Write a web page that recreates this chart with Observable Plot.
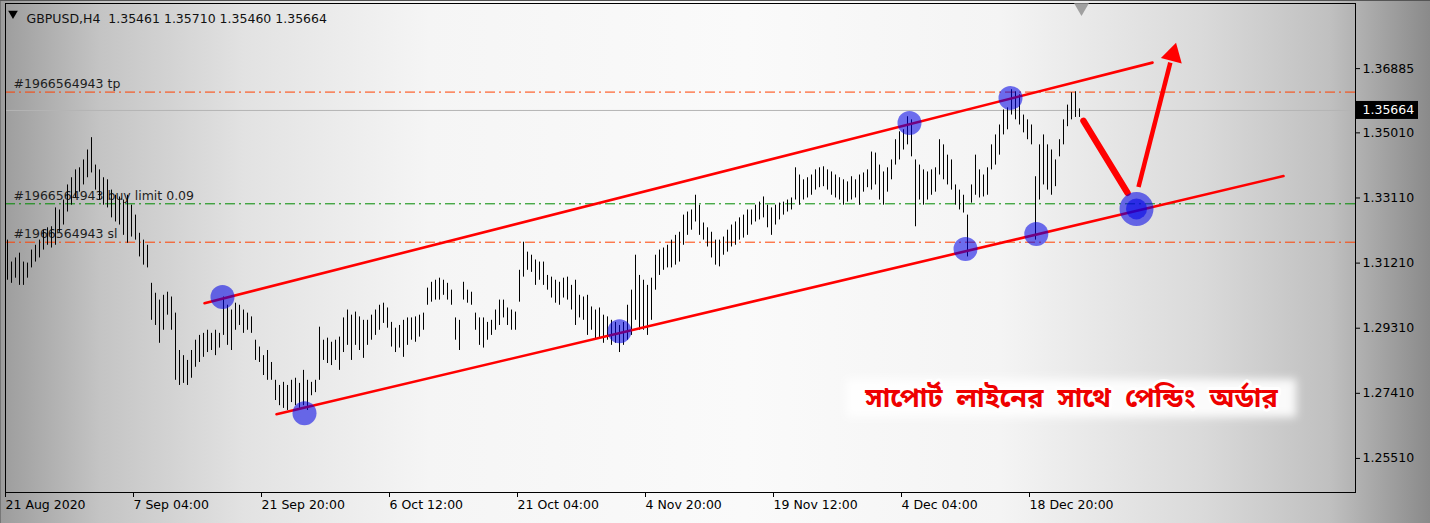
<!DOCTYPE html>
<html><head><meta charset="utf-8">
<script src="https://cdn.jsdelivr.net/npm/d3@7"></script>
<script src="https://cdn.jsdelivr.net/npm/@observablehq/plot@0.6"></script>
<style>
html,body{margin:0;padding:0;}
body{width:1430px;height:523px;overflow:hidden;}
#chart{position:relative;width:1430px;height:523px;
background:linear-gradient(to right,#9c9c9c 0%,#c4c4c4 7%,#e2e2e2 17%,#f5f5f5 30%,#fafafa 52%,#f4f4f4 70%,#dadada 84%,#c0c0c0 93%,#8a8a8a 100%);
box-shadow:inset 0 1px 0 #555, inset 1px 0 0 #777;}
#chart svg{position:absolute;left:0;top:0;}
</style></head><body><div id="chart"></div>
<script>
// ---- data ----
const symbolTitle = "GBPUSD,H4";
const headerOHLC = [1.35461, 1.35710, 1.35460, 1.35664];
const lastPrice = 1.35664;

const highs = [
1.3188,1.3124,1.3136,1.3150,1.3124,1.3121,1.3159,1.3173,1.3188,1.3217,
1.3224,1.3227,1.3282,1.3276,1.3305,1.3349,1.3370,1.3393,1.3399,1.3422,
1.3451,1.3487,1.3407,1.3393,1.3370,1.3364,1.3334,1.3319,1.3314,1.3305,
1.3319,1.3290,1.3261,1.3208,1.3188,1.3173,1.3062,1.3033,1.3013,1.3027,
1.3036,1.3022,1.2975,1.2866,
1.2851,1.2837,1.2866,1.2896,1.2910,1.2916,1.2925,1.2916,1.2925,1.2916,
1.3022,1.2998,1.2984,1.3004,1.2998,1.2984,1.2975,1.2964,1.2896,1.2876,
1.2851,1.2866,1.2831,1.2779,1.2764,1.2773,1.2764,1.2779,1.2785,1.2770,
1.2808,1.2779,1.2773,1.2779,1.2934,1.2896,1.2902,1.2890,1.2896,1.2905,
1.2961,1.2984,1.2969,1.2978,
1.2964,1.2954,1.2954,1.2969,1.2984,1.2998,1.3004,1.2990,1.2948,1.2931,
1.2939,1.2954,1.2961,1.2961,1.2964,1.2969,1.2975,1.3048,1.3065,1.3071,
1.3077,1.3071,1.3062,1.3042,1.2961,1.2954,1.3065,1.3042,1.3036,1.2975,
1.2961,1.2961,1.2948,1.2954,1.2984,1.3013,1.3013,1.2990,1.2984,1.2978,
1.3100,1.3182,1.3153,1.3144,1.3130,
1.3124,1.3124,1.3085,1.3080,1.3071,1.3065,1.3077,1.3080,1.3056,1.3071,
1.3027,1.3022,1.3027,1.2993,1.2984,1.2990,1.2969,1.2964,1.2954,1.2948,
1.2939,1.2948,1.2998,1.3042,1.3144,1.3085,1.3071,1.3056,1.3077,1.3144,
1.3159,1.3165,1.3173,1.3188,1.3202,1.3211,1.3261,1.3270,1.3276,1.3319,
1.3290,1.3238,1.3224,1.3211,1.3188,1.3188,1.3197,
1.3217,1.3232,1.3241,1.3253,1.3261,1.3276,1.3276,1.3290,1.3299,1.3314,
1.3290,1.3282,1.3290,1.3296,1.3299,1.3305,1.3311,1.3399,1.3378,1.3364,
1.3370,1.3378,1.3393,1.3399,1.3402,1.3393,1.3387,1.3378,1.3370,1.3364,
1.3358,1.3373,1.3364,1.3378,1.3384,1.3393,1.3445,1.3442,1.3407,1.3387,
1.3399,1.3422,1.3481,1.3504,1.3510,
1.3548,1.3539,1.3422,1.3407,1.3393,1.3387,1.3393,1.3399,1.3481,1.3466,
1.3436,1.3422,1.3349,1.3334,1.3319,1.3261,1.3349,1.3436,1.3393,1.3378,
1.3399,1.3466,1.3495,1.3524,1.3568,1.3574,1.3627,1.3621,1.3612,1.3553,
1.3539,1.3524,1.3373,1.3466,1.3495,1.3466,1.3451,1.3422,1.3481,1.3539,
1.3582,1.3618,1.3621,1.3571
];
const lows = [
1.3071,1.3062,1.3077,1.3056,1.3056,1.3077,1.3107,1.3124,1.3136,1.3159,
1.3173,1.3165,1.3173,1.3211,1.3232,1.3270,1.3290,1.3311,1.3328,1.3349,
1.3370,1.3384,1.3334,1.3305,1.3290,1.3282,1.3253,1.3241,1.3232,1.3202,
1.3179,1.3197,1.3188,1.3139,1.3115,1.3107,1.2954,1.2939,1.2887,1.2925,
1.2969,1.2925,1.2779,1.2764,
1.2770,1.2764,1.2785,1.2817,1.2831,1.2846,1.2860,1.2866,1.2851,1.2873,
1.2910,1.2881,1.2866,1.2925,1.2939,1.2916,1.2925,1.2916,1.2837,1.2831,
1.2793,1.2779,1.2779,1.2720,1.2705,1.2697,1.2691,1.2714,1.2705,1.2697,
1.2705,1.2691,1.2734,1.2743,1.2779,1.2837,1.2828,1.2822,1.2837,1.2808,
1.2860,1.2881,1.2837,1.2881,
1.2866,1.2843,1.2881,1.2896,1.2910,1.2925,1.2945,1.2931,1.2876,1.2860,
1.2873,1.2846,1.2881,1.2896,1.2890,1.2905,1.2925,1.2998,1.3007,1.3013,
1.3013,1.3027,1.3013,1.2998,1.2896,1.2866,1.3013,1.3004,1.2998,1.2925,
1.2881,1.2873,1.2896,1.2910,1.2925,1.2939,1.2961,1.2939,1.2925,1.2925,
1.3007,1.3080,1.3100,1.3094,1.3056,
1.3071,1.3056,1.3042,1.3019,1.3004,1.2998,1.3019,1.3013,1.2984,1.2939,
1.2961,1.2954,1.2910,1.2925,1.2896,1.2902,1.2887,1.2896,1.2881,1.2887,
1.2860,1.2881,1.2896,1.2910,1.2954,1.2925,1.2925,1.2910,1.2954,1.3042,
1.3085,1.3100,1.3107,1.3107,1.3115,1.3124,1.3173,1.3202,1.3217,1.3241,
1.3202,1.3188,1.3168,1.3136,1.3115,1.3110,1.3144,
1.3153,1.3168,1.3173,1.3188,1.3194,1.3202,1.3232,1.3241,1.3247,1.3253,
1.3224,1.3202,1.3232,1.3247,1.3261,1.3270,1.3276,1.3305,1.3290,1.3305,
1.3311,1.3319,1.3334,1.3341,1.3344,1.3334,1.3319,1.3311,1.3305,1.3290,
1.3299,1.3305,1.3311,1.3290,1.3328,1.3341,1.3334,1.3349,1.3305,1.3290,
1.3328,1.3364,1.3407,1.3422,1.3451,
1.3466,1.3431,1.3227,1.3305,1.3290,1.3305,1.3319,1.3328,1.3378,1.3364,
1.3349,1.3334,1.3290,1.3276,1.3267,1.3139,1.3296,1.3319,1.3311,1.3314,
1.3319,1.3393,1.3407,1.3436,1.3495,1.3510,1.3553,1.3539,1.3524,1.3501,
1.3481,1.3466,1.3188,1.3305,1.3349,1.3334,1.3319,1.3344,1.3431,1.3466,
1.3519,1.3539,1.3546,1.3546
];

const xTickIndex = [0, 32, 64, 96, 128, 160, 192, 224, 256];
const xTickLabels = ["21 Aug 2020","7 Sep 04:00","21 Sep 20:00","6 Oct 12:00","21 Oct 04:00","4 Nov 20:00","19 Nov 12:00","4 Dec 04:00","18 Dec 20:00"];
const yTicks = [1.36885, 1.35010, 1.33110, 1.31210, 1.29310, 1.27410, 1.25510];

const orderNames = ["#1966564943 tp", "#1966564943 buy limit 0.09", "#1966564943 sl"];
const orderPrices = [1.3620, 1.3294, 1.3182];
const orderColors = ["#ff4000", "#008a00", "#ff4000"];

const channelNames = ["upper", "upper", "lower", "lower"];
const channelIndex = [49.75, 286.75, 67.75, 319.5];
const channelPrice = [1.3004, 1.3706, 1.2680, 1.3375];

const touchIndex = [54.25, 74.75, 153.5, 226, 240, 251.25, 257.7];
const touchPrice = [1.3022, 1.2683, 1.2922, 1.3530, 1.3162, 1.3603, 1.3206];
const entryIndex = [282.75];
const entryPrice = [1.3279];

const moveDownIndex = [269.5, 280.5];
const moveDownPrice = [1.3536, 1.3326];
const moveUpIndex = [283.25, 291.2];
const moveUpPrice = [1.3343, 1.3706];
const arrowHeadIndex = [291.85];
const arrowHeadPrice = [1.3729];

const noteWords = ["সাপোর্ট", "লাইনের", "সাথে", "পেন্ডিং", "অর্ডার"];
const noteIndex = 266.5;
const notePrice = 1.2726;

// ---- tables ----
const bars = highs.map((h, i) => ({i, high: h, low: lows[i]}));
const orders = orderNames.map((n, i) => ({label: n, price: orderPrices[i], color: orderColors[i]}));
const channel = channelNames.map((n, i) => ({line: n, x: channelIndex[i], y: channelPrice[i]}));
const touches = touchIndex.map((x, i) => ({x, y: touchPrice[i]}));
const entry = entryIndex.map((x, i) => ({x, y: entryPrice[i]}));
const moveDown = moveDownIndex.map((x, i) => ({x, y: moveDownPrice[i]}));
const moveUp = moveUpIndex.map((x, i) => ({x, y: moveUpPrice[i]}));
const head = arrowHeadIndex.map((x, i) => ({x, y: arrowHeadPrice[i]}));
const noteText = noteWords.join("\u00a0 ");

const font = "'DejaVu Sans', Tahoma, sans-serif";

const plot = Plot.plot({
  width: 1430, height: 523,
  marginLeft: 5, marginRight: 75, marginTop: 3, marginBottom: 31,
  style: {background: "transparent", fontFamily: font, fontSize: "12.5px", color: "#000", overflow: "visible"},
  x: {domain: [0, 337.5], axis: null},
  y: {domain: [1.24516, 1.38785], axis: null},
  marks: [
    Plot.ruleY([lastPrice], {stroke: "#b4b4b4", strokeWidth: 1}),
    Plot.ruleY(orders, {y: "price", stroke: "color", strokeWidth: 1, strokeDasharray: "10,4,2,4"}),
    Plot.text(orders, {y: "price", text: "label", frameAnchor: "left", textAnchor: "start", dx: 8, dy: -8, fill: "#1e1e1e", fontSize: 12.5}),
    Plot.ruleX(bars, {x: d => d.i + 0.5, y1: "low", y2: "high", stroke: "#000", strokeWidth: 1}),
    Plot.line(channel, {x: "x", y: "y", z: "line", stroke: "#ff0000", strokeWidth: 2.6}),
    Plot.line(moveDown, {x: "x", y: "y", stroke: "#ff0000", strokeWidth: 6.5, strokeLinecap: "round"}),
    Plot.line(moveUp, {x: "x", y: "y", stroke: "#ff0000", strokeWidth: 4.5, strokeLinecap: "butt"}),
    Plot.dot(head, {x: "x", y: "y", symbol: "triangle", r: 8, rotate: 14.6, fill: "#ff0000", stroke: "none"}),
    Plot.dot(touches, {x: "x", y: "y", r: 12, fill: "#0000e6", fillOpacity: 0.56, stroke: "none"}),
    Plot.dot(entry, {x: "x", y: "y", r: 17, fill: "#0000e6", fillOpacity: 0.56, stroke: "none"}),
    Plot.dot(entry, {x: "x", y: "y", r: 10.5, fill: "#0000e6", fillOpacity: 0.56, stroke: "none"}),
    Plot.text([noteText], {x: noteIndex, y: notePrice, text: d => d, fontSize: 27, fontWeight: "bold",
      fontFamily: "'Noto Sans Bengali','Noto Serif Bengali','Lohit Bengali','FreeSans',sans-serif",
      fill: "#ee0000", stroke: "white", strokeWidth: 6, strokeOpacity: 0.9, strokeLinejoin: "round"}),
    Plot.frame({stroke: "#000", strokeWidth: 1}),
    Plot.axisY({anchor: "right", label: null, ticks: yTicks, tickFormat: d => d.toFixed(5), tickSize: 4, tickPadding: 3, fontSize: 12.5, fill: "#000"}),
    Plot.axisX({anchor: "bottom", label: null, ticks: xTickIndex, tickFormat: d => xTickLabels[xTickIndex.indexOf(d)],
      tickSize: 5, tickPadding: 3, textAnchor: "start", dx: 0, fontSize: 12.5, fill: "#000"}),
    Plot.text([lastPrice], {y: d => d, text: d => d.toFixed(5), frameAnchor: "right", textAnchor: "start", dx: 7,
      fill: "white", fontSize: 12.5}),
    Plot.dot([bars.length], {x: d => d, frameAnchor: "top", dy: 4, symbol: "triangle", rotate: 180, r: 5.5, fill: "#a0a0a0", stroke: "none"}),
    Plot.dot([symbolTitle], {frameAnchor: "top-left", dx: 7.5, dy: 10, symbol: "triangle", rotate: 180, r: 3.6, fill: "#000", stroke: "none"}),
    Plot.text([symbolTitle + "\u00a0\u00a0" + headerOHLC.map(v => v.toFixed(5)).join(" ")],
      {frameAnchor: "top-left", text: d => d, textAnchor: "start", dx: 21, dy: 11, fill: "#111", fontSize: 12.5})
  ]
});

document.getElementById("chart").appendChild(plot);

const NS = "http://www.w3.org/2000/svg";
const svg = plot.tagName.toLowerCase() === "svg" ? plot : plot.querySelector("svg");
const ys = plot.scale("y"), xs = plot.scale("x");
const texts = Array.from(svg.querySelectorAll("text"));

// black box behind the current price label
const priceText = texts.find(t => t.textContent === lastPrice.toFixed(5));
if (priceText) {
  const yPix = ys.apply(lastPrice);
  const r = document.createElementNS(NS, "rect");
  r.setAttribute("x", 1356); r.setAttribute("y", yPix - 9);
  r.setAttribute("width", 62); r.setAttribute("height", 18);
  r.setAttribute("fill", "#000");
  const g = priceText.closest("g") || priceText.parentNode;
  g.parentNode.insertBefore(r, g);
}

// soft white backdrop behind the note
const noteEl = texts.find(t => t.textContent === noteText);
if (noteEl) {
  const defs = document.createElementNS(NS, "defs");
  defs.innerHTML = '<filter id="soft" x="-20%" y="-50%" width="140%" height="200%"><feGaussianBlur stdDeviation="4"/></filter>';
  svg.insertBefore(defs, svg.firstChild);
  const cx = xs.apply(noteIndex), cy = ys.apply(notePrice);
  const r = document.createElementNS(NS, "rect");
  r.setAttribute("x", cx - 225); r.setAttribute("y", cy - 19);
  r.setAttribute("width", 450); r.setAttribute("height", 38);
  r.setAttribute("fill", "#ffffff"); r.setAttribute("fill-opacity", "0.9");
  r.setAttribute("filter", "url(#soft)");
  const g = noteEl.closest("g") || noteEl.parentNode;
  g.parentNode.insertBefore(r, g);
}
</script>
</body></html>
